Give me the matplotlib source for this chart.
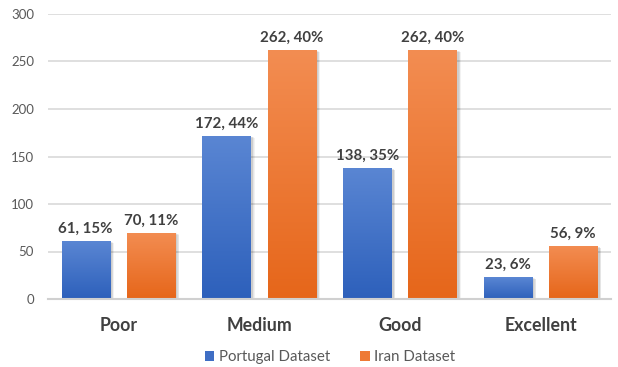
import numpy as np
import matplotlib
matplotlib.use("Agg")
import matplotlib.pyplot as plt
from matplotlib.colors import LinearSegmentedColormap
from matplotlib.patches import Rectangle

categories = ["Poor", "Medium", "Good", "Excellent"]
portugal = [61, 172, 138, 23]
portugal_pct = ["15%", "44%", "35%", "6%"]
iran = [70, 262, 262, 56]
iran_pct = ["11%", "40%", "40%", "9%"]
series_names = ["Portugal Dataset", "Iran Dataset"]
yticks = [0, 50, 100, 150, 200, 250, 300]

plt.rcParams['font.family'] = ['Lato', 'DejaVu Sans']

fig = plt.figure(figsize=(6.18, 3.67), dpi=100)
ax = fig.add_axes([48/618, 1-299/367, 563/618, 285/367])

x = np.arange(len(categories))
w = 0.342
off = 0.232

blue_cmap = LinearSegmentedColormap.from_list("b", ["#2d60bb", "#5a86d3"])
orange_cmap = LinearSegmentedColormap.from_list("o", ["#e6661a", "#f38d52"])

grad = np.linspace(0, 1, 256).reshape(-1, 1)

def draw_bars(xs, vals, cmap, pcts):
    for xi, v, p in zip(xs, vals, pcts):
        for k, a in enumerate([0.05, 0.05, 0.05, 0.05]):
            s = Rectangle((xi - w/2 + 0.005 + k*0.006, -1.5 - k*0.4), w + 0.012 - k*0.002, v + 0.5,
                          facecolor="black", alpha=a, edgecolor="none", zorder=2)
            ax.add_patch(s)
        r = Rectangle((xi - w/2, 0), w, v, facecolor="none", edgecolor="none", zorder=3)
        ax.add_patch(r)
        im = ax.imshow(grad, cmap=cmap, aspect="auto", origin="lower",
                       extent=[xi - w/2, xi + w/2, 0, v], zorder=3)
        im.set_clip_path(r)
        ax.text(xi, v + 12.5, f"{v}, {p}", ha="center", va="center",
                fontsize=10.8, fontweight="bold", color="#404040", zorder=5)

draw_bars(x - off, portugal, blue_cmap, portugal_pct)
draw_bars(x + off, iran, orange_cmap, iran_pct)

ax.set_xlim(-0.5, 3.5)
ax.set_ylim(0, 300)
ax.set_yticks(yticks)
ax.set_yticklabels([str(t) for t in yticks], fontsize=9.5, color="#595959")
ax.set_xticks(x)
ax.set_xticklabels(categories, fontsize=12.8, fontweight="bold", color="#404040")
ax.tick_params(axis="both", length=0)
ax.tick_params(axis="x", pad=13)
ax.tick_params(axis="y", pad=10)
ax.grid(axis="y", color="#d9d9d9", linewidth=1.2, zorder=0)
ax.set_axisbelow(True)
for s in ["top", "right", "left"]:
    ax.spines[s].set_visible(False)
ax.spines["bottom"].set_color("#d0d0d0")
ax.spines["bottom"].set_linewidth(1.5)
ax.spines["bottom"].set_zorder(4)

handles = [Rectangle((0, 0), 1, 1, facecolor="#3f6ec4"), Rectangle((0, 0), 1, 1, facecolor="#ee7a35")]
fig.legend(handles, series_names, loc="center", bbox_to_anchor=(330/618, 1-357/367), ncol=2,
           frameon=False, fontsize=10.8, handlelength=0.65, handleheight=0.65, handletextpad=0.3,
           columnspacing=2.0, labelcolor="#595959")

fig.savefig("out.png", dpi=100)
